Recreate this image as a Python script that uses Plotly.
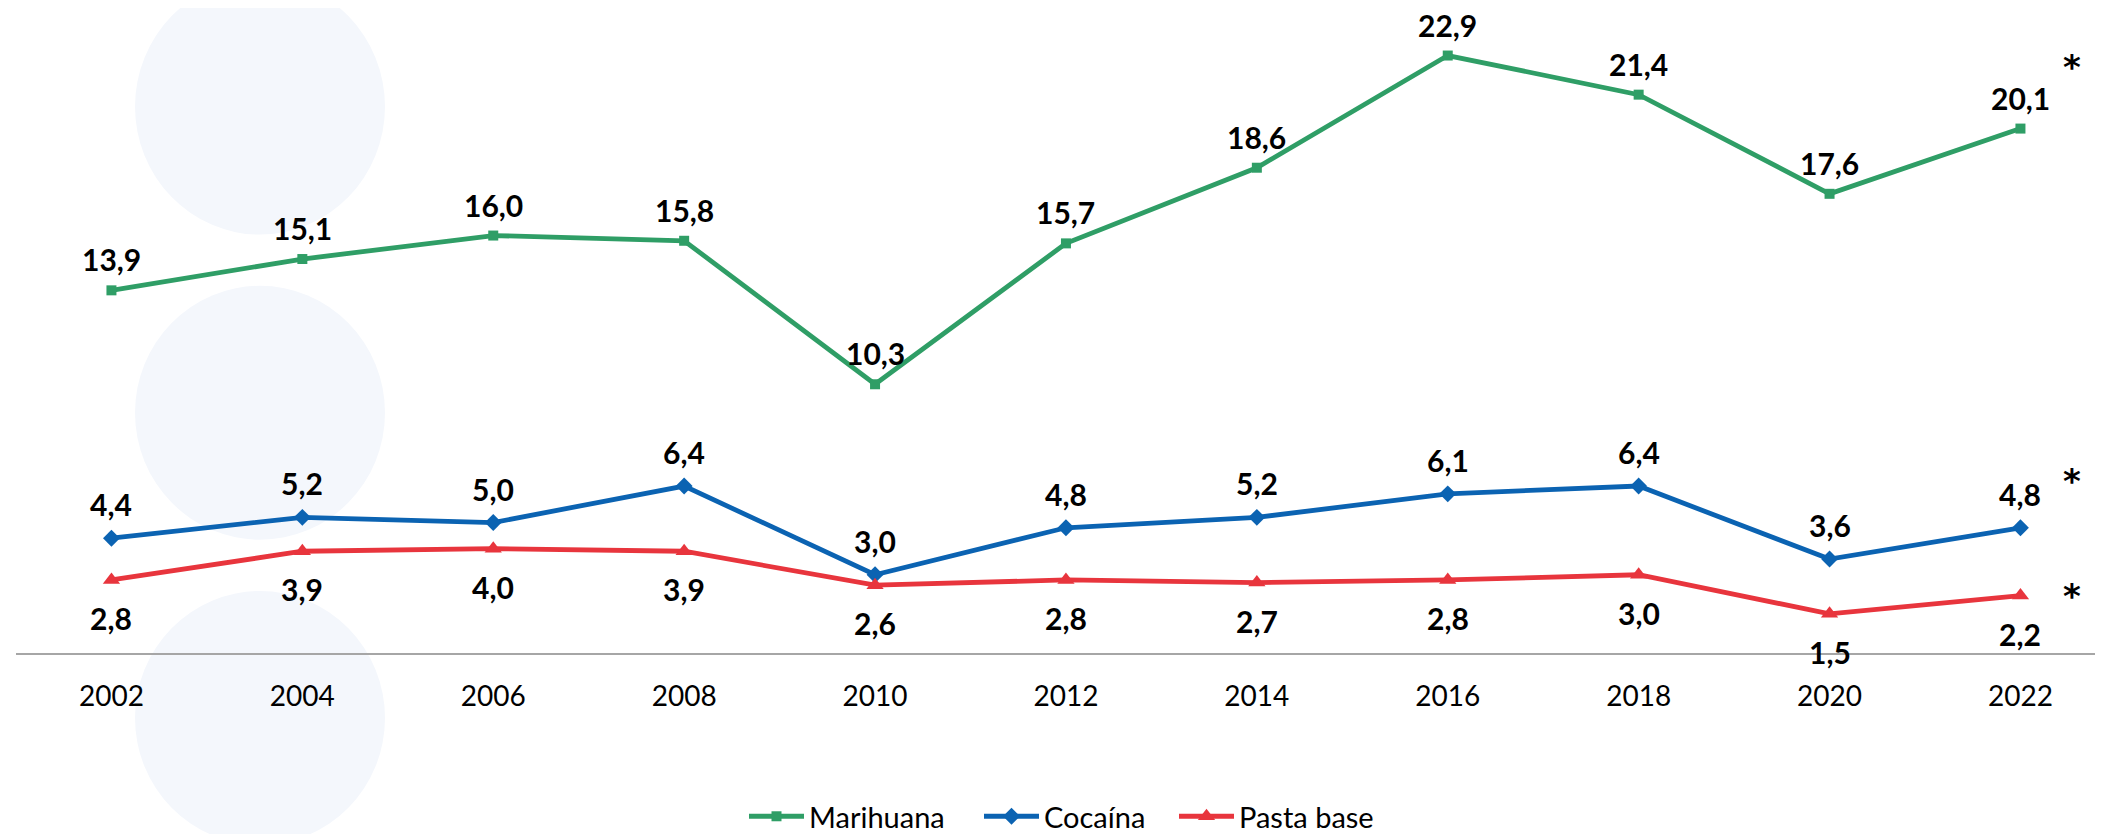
import plotly.graph_objects as go

# Data
years = [2002, 2004, 2006, 2008, 2010, 2012, 2014, 2016, 2018, 2020, 2022]
marihuana = [13.9, 15.1, 16.0, 15.8, 10.3, 15.7, 18.6, 22.9, 21.4, 17.6, 20.1]
cocaina = [4.4, 5.2, 5.0, 6.4, 3.0, 4.8, 5.2, 6.1, 6.4, 3.6, 4.8]
pasta_base = [2.8, 3.9, 4.0, 3.9, 2.6, 2.8, 2.7, 2.8, 3.0, 1.5, 2.2]
tick_labels = [str(y) for y in years]

GREEN = "#2f9e66"
BLUE = "#0b63b2"
RED = "#e8353d"
FONT = "Lato, 'Open Sans', sans-serif"

# name, values, colour, marker, marker size, label shift, asterisk shift, legend id, legend left (px)
series = [
    ("Marihuana", marihuana, GREEN, "square", 10, 31, 62, "legend", 748),
    ("Cocaína", cocaina, BLUE, "diamond", 13, 34, 47, "legend2", 983),
    ("Pasta base", pasta_base, RED, "triangle-up", 15, -38, 0, "legend3", 1178),
]

# plot area in pixels
L, R, T, B = 8, 2103, 11, 655
def px(x):
    return (x - L) / (R - L)
def py(y):
    return (B - y) / (B - T)

fig = go.Figure()
annotations = []
legends = {}
for name, vals, color, symbol, msize, label_shift, star_shift, leg, leg_x in series:
    fig.add_trace(go.Scatter(
        x=years, y=vals, name=name, mode="lines+markers",
        line=dict(color=color, width=4.8),
        marker=dict(symbol=symbol, size=msize, color=color),
        legend=leg,
    ))
    legends[leg] = dict(
        orientation="h", x=px(leg_x - 12), xanchor="left",
        y=py(821), yanchor="middle",
        font=dict(family=FONT, size=29, color="black"),
        itemwidth=55, bgcolor="rgba(0,0,0,0)",
    )
    # value labels
    for x, v in zip(years, vals):
        annotations.append(dict(
            x=x, y=v, xref="x", yref="y", showarrow=False,
            text=f"{v:.1f}".replace(".", ","), yshift=label_shift,
            font=dict(family=FONT, size=30, color="black", weight="bold"),
            borderpad=0,
        ))
    # asterisk after last point
    annotations.append(dict(
        x=years[-1], y=vals[-1], xref="x", yref="y", showarrow=False,
        text="*", xshift=52, yshift=star_shift,
        font=dict(family="DejaVu Sans", size=34, color="black", weight="bold"),
    ))

# light decorative blobs in the background
shapes = []
for top, bottom in [(-30, 230), (282, 540), (592, 850)]:
    shapes.append(dict(
        type="circle", xref="paper", yref="paper",
        x0=px(127), x1=px(377), y0=py(bottom), y1=py(top),
        fillcolor="#f4f7fc", line=dict(width=0), layer="below",
    ))

fig.update_layout(
    width=2103, height=834,
    margin=dict(l=L, r=2103 - R, t=T, b=834 - B),
    paper_bgcolor="white", plot_bgcolor="rgba(0,0,0,0)",
    font=dict(family=FONT, size=28, color="black"),
    showlegend=True,
    annotations=annotations,
    shapes=shapes,
    **legends,
)
fig.update_xaxes(
    range=[2001, 2001 + (R - L) / 95.45],
    tickvals=years, ticktext=tick_labels,
    showgrid=False, zeroline=False,
    showline=True, linecolor="#a6a6a6", linewidth=1.5,
    ticks="outside", ticklen=18, tickcolor="rgba(0,0,0,0)",
    tickfont=dict(family=FONT, size=28, color="black"),
)
fig.update_yaxes(
    range=[0, 24.3], visible=False, showgrid=False, zeroline=False,
)

fig.write_html("out.html")
